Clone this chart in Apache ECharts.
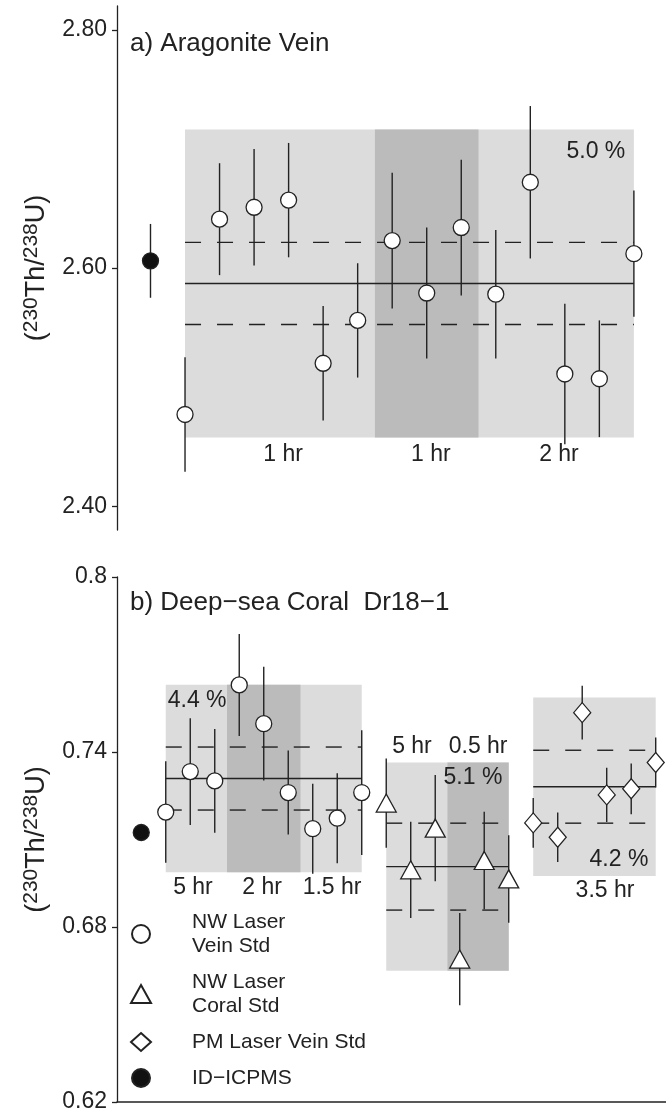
<!DOCTYPE html>
<html>
<head>
<meta charset="utf-8">
<script src="https://cdn.jsdelivr.net/npm/echarts@6/dist/echarts.min.js"></script>
<style>
  html, body { margin: 0; padding: 0; background: #fff; }
  #chart { width: 666px; height: 1114px; }
</style>
</head>
<body>
<div id="chart"></div>
<script>
// ---- a) Aragonite vein ----
const veinIdVal = 2.606;
const veinIdErr = 0.031;
const veinVals = [2.477, 2.641, 2.651, 2.657, 2.520, 2.556, 2.623, 2.579, 2.634, 2.578, 2.672, 2.511, 2.507, 2.612];
const veinErrs = [0.048, 0.047, 0.049, 0.048, 0.048, 0.048, 0.057, 0.055, 0.057, 0.054, 0.064, 0.059, 0.049, 0.053];
const veinMean = 2.587;
const veinPct = 5.0;
const veinDash = 0.0345;
const veinDark = [5.5, 8.5];
const veinTicks = [2.4, 2.6, 2.8];
const veinNotes = [[11.9, 2.698, '5.0 %'], [2.84, 2.443, '1 hr'], [7.12, 2.443, '1 hr'], [10.83, 2.443, '2 hr']];

// ---- b) Deep-sea coral Dr18-1 ----
const coralIdVal = 0.7124;
const nwVeinVals = [0.7194, 0.7333, 0.7301, 0.7630, 0.7497, 0.7261, 0.7137, 0.7173, 0.7261];
const nwVeinErrs = [0.0174, 0.0183, 0.0178, 0.0175, 0.0195, 0.0144, 0.0154, 0.0154, 0.0214];
const nwCoralVals = [0.7225, 0.6996, 0.7139, 0.6690, 0.7028, 0.6965];
const nwCoralErrs = [0.0153, 0.0165, 0.0182, 0.0158, 0.0167, 0.0150];
const pmVeinVals = [0.7157, 0.7108, 0.7535, 0.7253, 0.7274, 0.7364];
const pmVeinErrs = [0.0085, 0.0085, 0.0092, 0.0093, 0.0087, 0.0086];
const groupSpans = [[0, 8], [9, 14], [15, 20]];
const groupMeans = [0.7309, 0.7007, 0.7281];
const groupPcts = [4.4, 5.1, 4.2];
const groupDash = [0.0108, 0.0149, 0.0125];
const groupDark = [[2.5, 5.5], [11.5, 14], null];
const coralTicks = [0.62, 0.68, 0.74, 0.8];
const coralNotes = [
  [1.28, 0.7575, '4.4 %'], [1.11, 0.6935, '5 hr'], [3.93, 0.6935, '2 hr'], [6.79, 0.6935, '1.5 hr'],
  [10.05, 0.7417, '5 hr'], [12.75, 0.7417, '0.5 hr'], [12.54, 0.7312, '5.1 %'],
  [18.5, 0.7032, '4.2 %'], [17.93, 0.6923, '3.5 hr']
];

const NAME_VEIN = 'NW Laser\nVein Std';
const NAME_CORAL = 'NW Laser\nCoral Std';
const NAME_PM = 'PM Laser Vein Std';
const NAME_ID = 'ID\u2212ICPMS';

const INK = '#222';
const LIGHT = '#dcdcdc';
const DARK = '#bbbbbb';
const FONT = "'Liberation Sans', Arial, Helvetica, sans-serif";

// build helper tables
function points(vals, start) { return vals.map((v, i) => [start + i, v]); }
function bars(vals, errs, start) { return vals.map((v, i) => [start + i, v - errs[i], v + errs[i]]); }
function boxes(span, mean, pct, dark) {
  const lo = mean * (1 - pct / 100), hi = mean * (1 + pct / 100);
  const out = [[span[0], span[1], lo, hi, 0]];
  if (dark) out.push([dark[0], dark[1], lo, hi, 1]);
  return out;
}
function levels(span, mean, dash) {
  return [[span[0], span[1], mean, 0], [span[0], span[1], mean + dash, 1], [span[0], span[1], mean - dash, 1]];
}

const veinBoxes = boxes([0, veinVals.length - 1], veinMean, veinPct, veinDark);
const veinLevels = levels([0, veinVals.length - 1], veinMean, veinDash);
const veinBars = bars(veinVals, veinErrs, 0).concat([[-1, veinIdVal - veinIdErr, veinIdVal + veinIdErr]]);

let coralBoxes = [], coralLevels = [];
groupSpans.forEach((s, g) => {
  coralBoxes = coralBoxes.concat(boxes(s, groupMeans[g], groupPcts[g], groupDark[g]));
  coralLevels = coralLevels.concat(levels(s, groupMeans[g], groupDash[g]));
});
const coralBars = bars(nwVeinVals, nwVeinErrs, groupSpans[0][0])
  .concat(bars(nwCoralVals, nwCoralErrs, groupSpans[1][0]))
  .concat(bars(pmVeinVals, pmVeinErrs, groupSpans[2][0]));

// render helpers
function boxItem(params, api) {
  const a = api.coord([api.value(0), api.value(3)]);
  const b = api.coord([api.value(1), api.value(2)]);
  return { type: 'rect', shape: { x: a[0], y: a[1], width: b[0] - a[0], height: b[1] - a[1] },
           style: { fill: api.value(4) ? DARK : LIGHT } };
}
function levelItem(params, api) {
  const a = api.coord([api.value(0), api.value(2)]);
  const b = api.coord([api.value(1), api.value(2)]);
  return { type: 'line', shape: { x1: a[0], y1: a[1], x2: b[0], y2: b[1] },
           style: { stroke: INK, lineWidth: 1.4, lineDash: api.value(3) ? [16, 16] : null } };
}
function barItem(params, api) {
  const a = api.coord([api.value(0), api.value(1)]);
  const b = api.coord([api.value(0), api.value(2)]);
  return { type: 'line', shape: { x1: a[0], y1: a[1], x2: b[0], y2: b[1] },
           style: { stroke: INK, lineWidth: 1.4 } };
}
function noteRenderer(notes) {
  return function (params, api) {
    const p = api.coord([api.value(0), api.value(1)]);
    return { type: 'text', x: p[0], y: p[1],
             style: { text: notes[params.dataIndex][2], fill: INK, font: '23px ' + FONT,
                      align: 'center', verticalAlign: 'middle', textAlign: 'center', textVerticalAlign: 'middle' } };
  };
}

function customSeries(idx, data, render, z) {
  return { type: 'custom', xAxisIndex: idx, yAxisIndex: idx, data: data, renderItem: render,
           silent: true, z: z, clip: false, encode: { x: 0, y: 1 } };
}
function scatterSeries(idx, name, data, symbol, size, fill) {
  return { type: 'scatter', name: name, xAxisIndex: idx, yAxisIndex: idx, data: data,
           symbol: symbol, symbolSize: size, z: 10, silent: true,
           itemStyle: { color: fill, borderColor: INK, borderWidth: 1.3, opacity: 1 } };
}

const richName = {
  n: { fontSize: 27, lineHeight: 32, fontFamily: FONT, color: INK },
  s: { fontSize: 21, lineHeight: 20, fontFamily: FONT, color: INK, verticalAlign: 'top' }
};
const yName = '{n|(}{s|230}{n|Th/}{s|238}{n|U)}';

function yAxis(idx, min, max, ticks, fmt) {
  return {
    type: 'value', gridIndex: idx, min: min, max: max,
    name: yName, nameLocation: 'middle', nameRotate: 90, nameGap: 64,
    nameTextStyle: { rich: richName },
    axisLine: { show: true, onZero: false, lineStyle: { color: INK, width: 1.3 } },
    axisTick: { show: true, inside: false, length: 5, customValues: ticks, lineStyle: { color: INK, width: 1.3 } },
    axisLabel: { show: true, margin: 10, customValues: ticks, formatter: fmt,
                 fontSize: 23, fontFamily: FONT, color: INK },
    splitLine: { show: false }
  };
}

const option = {
  animation: false,
  backgroundColor: '#fff',
  title: [
    { text: 'a) Aragonite Vein', left: 130, top: 31, padding: 0,
      textStyle: { fontSize: 26, fontWeight: 'normal', fontFamily: FONT, color: INK } },
    { text: 'b) Deep\u2212sea Coral  Dr18\u22121', left: 130, top: 590, padding: 0,
      textStyle: { fontSize: 26, fontWeight: 'normal', fontFamily: FONT, color: INK } }
  ],
  legend: {
    orient: 'vertical', left: 130, top: 910, padding: 0, itemGap: 12,
    itemWidth: 20, itemHeight: 18,
    data: [
      { name: NAME_VEIN },
      { name: NAME_CORAL },
      { name: NAME_PM },
      { name: NAME_ID }
    ],
    textStyle: { fontSize: 21, lineHeight: 24, fontFamily: FONT, color: INK, padding: [0, 0, 0, 36] },
    selectedMode: false
  },
  grid: [
    { left: 117, right: 0, top: 6, height: 524 },
    { left: 117, right: 0, top: 577, height: 525 }
  ],
  xAxis: [
    { type: 'value', gridIndex: 0, min: -1.97, max: 13.93, show: false },
    { type: 'value', gridIndex: 1, min: -1.99, max: 20.42,
      axisLine: { show: true, onZero: false, lineStyle: { color: INK, width: 1.5 } },
      axisTick: { show: false }, axisLabel: { show: false }, splitLine: { show: false } }
  ],
  yAxis: [
    yAxis(0, 2.38, 2.82, veinTicks, v => v.toFixed(2)),
    yAxis(1, 0.62, 0.80, coralTicks, v => String(+v.toFixed(2)))
  ],
  series: [
    customSeries(0, veinBoxes, boxItem, 1),
    customSeries(0, veinLevels, levelItem, 2),
    customSeries(0, veinBars, barItem, 3),
    scatterSeries(0, NAME_VEIN, points(veinVals, 0), 'circle', 16, '#fff'),
    scatterSeries(0, NAME_ID, [[-1, veinIdVal]], 'circle', 16, '#111'),
    customSeries(0, veinNotes, noteRenderer(veinNotes), 12),

    customSeries(1, coralBoxes, boxItem, 1),
    customSeries(1, coralLevels, levelItem, 2),
    customSeries(1, coralBars, barItem, 3),
    scatterSeries(1, NAME_VEIN, points(nwVeinVals, groupSpans[0][0]), 'circle', 16, '#fff'),
    scatterSeries(1, NAME_CORAL, points(nwCoralVals, groupSpans[1][0]), 'triangle', [20, 18], '#fff'),
    scatterSeries(1, NAME_PM, points(pmVeinVals, groupSpans[2][0]), 'diamond', [17, 20], '#fff'),
    scatterSeries(1, NAME_ID, [[-1, coralIdVal]], 'circle', 16, '#111'),
    customSeries(1, coralNotes, noteRenderer(coralNotes), 12)
  ]
};

const chart = echarts.init(document.getElementById('chart'));
chart.setOption(option);
</script>
</body>
</html>
